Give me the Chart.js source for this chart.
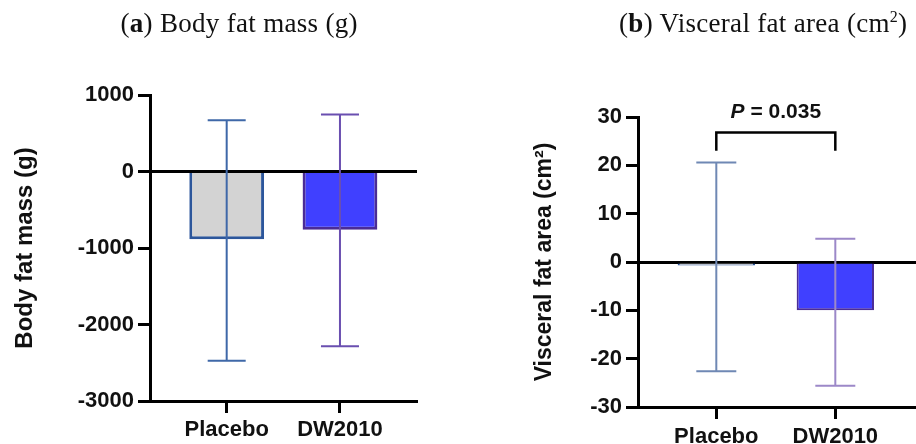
<!DOCTYPE html>
<html>
<head>
<meta charset="utf-8">
<script src="https://cdn.jsdelivr.net/npm/chart.js@4"></script>
<style>
  body { margin: 0; background: #fff; }
  #wrap { position: relative; width: 916px; height: 444px; overflow: hidden; }
  .ttl { position: absolute; top: 7px; font-family: "Liberation Serif", serif; font-size: 27px; color: #111; white-space: nowrap; line-height: 32px; letter-spacing: 0.3px; }
  .ttl sup { font-size: 16px; vertical-align: 10px; line-height: 0; }
  canvas { position: absolute; top: 0; }
</style>
</head>
<body>
<div id="wrap">
  <canvas id="c1" width="458" height="444" style="left:0"></canvas>
  <canvas id="c2" width="458" height="444" style="left:458px"></canvas>
  <div class="ttl" id="t1">(<b>a</b>) Body fat mass (g)</div>
  <div class="ttl" id="t2">(<b>b</b>) Visceral fat area (cm<sup>2</sup>)</div>
</div>
<script>
const categories = ['Placebo', 'DW2010'];

// body fat mass change (g)
const fatMass = [-884, -762];
const fatMassHi = [670, 745];
const fatMassLo = [-2475, -2283];
const fatMassTicks = [-3000, -2000, -1000, 0, 1000];

// visceral fat area change (cm2)
const vfa = [-0.7, -10.0];
const vfaHi = [20.6, 4.8];
const vfaLo = [-22.6, -25.6];
const vfaTicks = [-30, -20, -10, 0, 10, 20, 30];
const pText = 'P = 0.035';

const fills = ['#d3d3d3', '#4040ff'];
const borders = ['#2c569b', '#4b2c96'];

// center the titles over their panels
const t1 = document.getElementById('t1');
t1.style.left = (239 - t1.offsetWidth / 2) + 'px';
const t2 = document.getElementById('t2');
t2.style.left = (763 - t2.offsetWidth / 2) + 'px';

const errorBars = {
    id: 'errorBars',
    afterDatasetsDraw(chart, args, opts) {
        const ctx = chart.ctx;
        const y = chart.scales.y;
        const meta = chart.getDatasetMeta(0);
        meta.data.forEach((bar, i) => {
            const top = y.getPixelForValue(opts.hi[i]);
            const bot = y.getPixelForValue(opts.lo[i]);
            ctx.save();
            ctx.strokeStyle = opts.colors[i];
            ctx.lineWidth = 2;
            ctx.beginPath();
            ctx.moveTo(bar.x, top);
            ctx.lineTo(bar.x, bot);
            ctx.moveTo(bar.x - opts.cap, top);
            ctx.lineTo(bar.x + opts.cap, top);
            ctx.moveTo(bar.x - opts.cap, bot);
            ctx.lineTo(bar.x + opts.cap, bot);
            ctx.stroke();
            ctx.restore();
        });
    }
};

const sigBracket = {
    id: 'sigBracket',
    afterDraw(chart, args, opts) {
        if (!opts.text) return;
        const ctx = chart.ctx;
        const x = chart.scales.x, y = chart.scales.y;
        const x1 = x.getPixelForValue(1), x2 = x.getPixelForValue(2);
        const yTop = y.getPixelForValue(opts.top);
        const yEnd = y.getPixelForValue(opts.end);
        ctx.save();
        ctx.strokeStyle = '#000';
        ctx.lineWidth = 2.5;
        ctx.beginPath();
        ctx.moveTo(x1, yEnd);
        ctx.lineTo(x1, yTop);
        ctx.lineTo(x2, yTop);
        ctx.lineTo(x2, yEnd);
        ctx.stroke();
        ctx.fillStyle = '#111';
        ctx.textBaseline = 'alphabetic';
        const it = 'italic bold 21px "Liberation Sans", Arial, sans-serif';
        const rg = 'bold 21px "Liberation Sans", Arial, sans-serif';
        const pPart = opts.text.slice(0, 1);
        const rest = opts.text.slice(1);
        ctx.font = it;
        const w1 = ctx.measureText(pPart).width;
        ctx.font = rg;
        const w2 = ctx.measureText(rest).width;
        const sx = (x1 + x2) / 2 - (w1 + w2) / 2;
        const ty = yTop - 14;
        ctx.font = it;
        ctx.fillText(pPart, sx, ty);
        ctx.font = rg;
        ctx.fillText(rest, sx + w1, ty);
        ctx.restore();
    }
};

function makeChart(id, o) {
    const font = { family: '"Liberation Sans", Arial, sans-serif', size: 22, weight: 'bold' };
    return new Chart(document.getElementById(id), {
        type: 'bar',
        data: {
            datasets: [{
                data: o.values.map((v, i) => ({ x: i + 1, y: v })),
                backgroundColor: fills,
                borderColor: borders,
                borderWidth: o.bw,
                borderSkipped: 'start',
                barPercentage: o.barPct,
                categoryPercentage: 1
            }]
        },
        options: {
            responsive: false,
            animation: false,
            layout: { padding: { left: 0, top: o.top, right: o.right, bottom: 0 } },
            plugins: {
                legend: { display: false },
                tooltip: { enabled: false },
                errorBars: { hi: o.hi, lo: o.lo, colors: o.errColors, cap: o.cap },
                sigBracket: o.sig || {}
            },
            scales: {
                x: {
                    type: 'linear',
                    offset: false,
                    min: o.xmin,
                    max: o.xmax,
                    afterBuildTicks: s => { s.ticks = categories.map((c, i) => ({ value: i + 1 })); },
                    afterFit: s => { s.height = o.xh; },
                    ticks: {
                        color: '#111',
                        font: font,
                        padding: o.xpad,
                        maxRotation: 0,
                        autoSkip: false,
                        callback: v => categories[v - 1]
                    },
                    grid: { offset: false, drawOnChartArea: false, tickLength: 12, tickWidth: 3, tickColor: '#000' },
                    border: { color: '#000', width: 3 }
                },
                y: {
                    min: o.ticks[0],
                    max: o.ticks[o.ticks.length - 1],
                    z: 1,
                    afterBuildTicks: s => { s.ticks = o.ticks.map(v => ({ value: v })); },
                    afterFit: s => { s.width = o.yw; },
                    ticks: { color: '#111', font: font, padding: 4, callback: v => String(v) },
                    grid: {
                        color: c => c.tick && c.tick.value === 0 ? '#000' : 'rgba(0,0,0,0)',
                        lineWidth: 3,
                        tickLength: 12,
                        tickWidth: 3,
                        tickColor: '#000'
                    },
                    border: { color: '#000', width: 3 },
                    title: {
                        display: true,
                        text: o.title,
                        color: '#111',
                        font: Object.assign({}, font, { size: o.tsize }),
                        padding: { top: o.tpad, bottom: 0 }
                    }
                }
            }
        },
        plugins: [errorBars, sigBracket]
    });
}

makeChart('c1', {
    values: fatMass, hi: fatMassHi, lo: fatMassLo, ticks: fatMassTicks,
    title: 'Body fat mass (g)', tsize: 24, tpad: 11,
    errColors: ['#3f68a8', '#6a4fb0'], cap: 19, bw: 3, barPct: 0.66,
    top: 95, right: 41, yw: 150, xh: 43, xpad: 4, xmin: 0.323, xmax: 2.68
});

makeChart('c2', {
    values: vfa, hi: vfaHi, lo: vfaLo, ticks: vfaTicks,
    title: 'Visceral fat area (cm²)', tsize: 23, tpad: 73,
    errColors: ['#6f88b4', '#9c88c8'], cap: 20, bw: 2, barPct: 0.65,
    top: 117, right: 0, yw: 180, xh: 37, xpad: 5, xmin: 0.342, xmax: 2.678,
    sig: { text: pText, top: 26.8, end: 23.0 }
});
</script>
</body>
</html>
